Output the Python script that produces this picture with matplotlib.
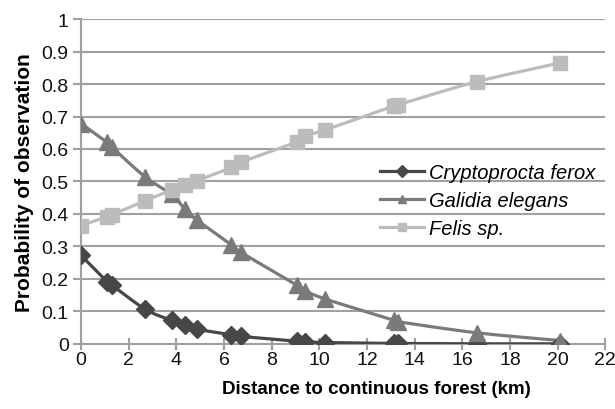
import numpy as np
import matplotlib
matplotlib.use("Agg")
import matplotlib.pyplot as plt

plt.rcParams['font.family'] = ['Liberation Sans', 'DejaVu Sans']

distance = [0, 1.1, 1.3, 2.7, 3.8, 4.35, 4.85, 6.3, 6.7, 9.05, 9.4, 10.25, 13.15, 13.3, 16.6, 20.1]
cryptoprocta = [0.272, 0.19, 0.18, 0.106, 0.072, 0.057, 0.045, 0.028, 0.023, 0.008, 0.006, 0.004, 0.001, 0.001, 0.0, 0.0]
galidia = [0.678, 0.62, 0.605, 0.513, 0.46, 0.415, 0.382, 0.305, 0.282, 0.181, 0.164, 0.138, 0.072, 0.068, 0.034, 0.01]
felis = [0.364, 0.392, 0.398, 0.441, 0.474, 0.49, 0.502, 0.543, 0.559, 0.622, 0.641, 0.659, 0.733, 0.736, 0.807, 0.865]

series = [
    ("Cryptoprocta ferox", cryptoprocta, "#474747", "D", 9),
    ("Galidia elegans", galidia, "#7a7a7a", "^", 11),
    ("Felis sp.", felis, "#bcbcbc", "s", 10),
]


def smooth(x, y, n=20):
    x = np.asarray(x, float)
    y = np.asarray(y, float)
    P = np.column_stack([x, y])
    P = np.vstack([P[0] - (P[1] - P[0]), P, P[-1] + (P[-1] - P[-2])])
    out = []
    for i in range(1, len(P) - 2):
        p0, p1, p2, p3 = P[i - 1], P[i], P[i + 1], P[i + 2]
        t = np.linspace(0, 1, n)[:, None]
        seg = 0.5 * ((2 * p1) + (-p0 + p2) * t + (2 * p0 - 5 * p1 + 4 * p2 - p3) * t ** 2
                     + (-p0 + 3 * p1 - 3 * p2 + p3) * t ** 3)
        out.append(seg)
    S = np.vstack(out)
    return S[:, 0], S[:, 1]


fig = plt.figure(figsize=(6.15, 4.1), dpi=100)
ax = fig.add_axes([0.132, 0.159, 0.852, 0.792])

for name, vals, col, mk, ms in series:
    sx, sy = smooth(distance, vals)
    ax.plot(sx, sy, color=col, lw=2.3, zorder=3)
    ax.plot(distance, vals, linestyle='none', marker=mk, ms=ms, color=col,
            markeredgecolor=col, zorder=4)
    ax.plot([], [], color=col, lw=2.3, marker=mk, ms=6, label=name)

ax.set_xlim(0, 22)
ax.set_ylim(0, 1)
ax.set_xticks(np.arange(0, 23, 2))
ax.set_yticks(np.round(np.arange(0, 1.01, 0.1), 1))
ax.set_yticklabels(["0", "0.1", "0.2", "0.3", "0.4", "0.5", "0.6", "0.7", "0.8", "0.9", "1"])
ax.yaxis.grid(True, color="#a0a0a0", lw=1.5)
ax.set_axisbelow(True)
for s in ["top", "right"]:
    ax.spines[s].set_visible(False)
ax.spines["left"].set_color("#a0a0a0")
ax.spines["bottom"].set_color("#a0a0a0")
ax.spines["left"].set_linewidth(1.5)
ax.spines["bottom"].set_linewidth(1.5)
ax.tick_params(axis='both', colors="#a0a0a0", labelcolor="#111111", labelsize=14,
               length=6, width=1.5, direction='out', pad=3)
ax.tick_params(axis='x', direction='inout', length=8, pad=1)

ax.set_xlabel("Distance to continuous forest (km)", fontsize=13.5, fontweight='bold', va='center')
ax.xaxis.set_label_coords(0.563, -0.138)
ax.set_ylabel("Probability of observation", fontsize=15, fontweight='bold', labelpad=5)

leg = ax.legend(loc='upper left', bbox_to_anchor=(0.57, 0.556), frameon=False,
                fontsize=14.5, handlelength=2.2, labelspacing=0.45, handletextpad=0.25,
                borderpad=0, borderaxespad=0)
for t in leg.get_texts():
    t.set_fontstyle('italic')

fig.savefig("out.png", dpi=100, facecolor="white")
